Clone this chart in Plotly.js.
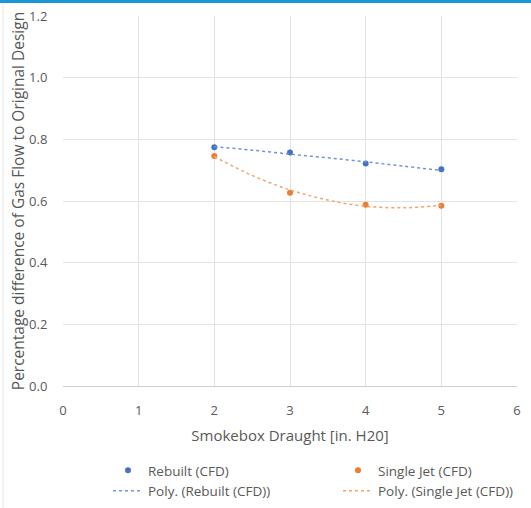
<!DOCTYPE html>
<html>
<head>
<meta charset="utf-8">
<script src="https://cdn.plot.ly/plotly-3.0.1.min.js"></script>
<style>html,body{margin:0;padding:0;background:#fff;}#chart{width:531px;height:508px;}</style>
</head>
<body>
<div id="chart"></div>
<script>
// Measured data points
const draught = [2, 3, 4, 5];
const rebuiltCFD = [0.774, 0.757, 0.722, 0.703];
const singleJetCFD = [0.746, 0.627, 0.588, 0.585];

// Polynomial trendlines
const trendX = [2, 2.5, 3, 3.5, 4, 4.5, 5];
const rebuiltTrend = [0.776, 0.765, 0.752, 0.740, 0.727, 0.713, 0.699];
const singleJetTrend = [0.744, 0.683, 0.636, 0.603, 0.583, 0.578, 0.586];

const xTicks = [0, 1, 2, 3, 4, 5, 6];
const yTicks = [0.0, 0.2, 0.4, 0.6, 0.8, 1.0, 1.2];

const blue = '#4472C4', orange = '#ED7D31';
const fam = '"Open Sans", "Noto Sans", sans-serif';
const tickFont = {family: fam, size: 13, color: '#595959'};
const legFont = {family: fam, size: 13.5, color: '#595959'};

const traces = [
  {x: draught, y: rebuiltCFD, name: 'Rebuilt (CFD)', mode: 'markers', type: 'scatter',
   marker: {color: blue, size: 6}, legend: 'legend'},
  {x: trendX, y: rebuiltTrend, name: 'Poly. (Rebuilt (CFD))', mode: 'lines', type: 'scatter',
   line: {color: '#6f95d8', width: 1.5, dash: 'dot', shape: 'spline'}, legend: 'legend'},
  {x: draught, y: singleJetCFD, name: 'Single Jet (CFD)', mode: 'markers', type: 'scatter',
   marker: {color: orange, size: 6}, legend: 'legend2'},
  {x: trendX, y: singleJetTrend, name: 'Poly. (Single Jet (CFD))', mode: 'lines', type: 'scatter',
   line: {color: '#f2a46e', width: 1.5, dash: 'dot', shape: 'spline'}, legend: 'legend2'}
];

const W = 531 - 63 - 14;
const H = 508 - 16 - 122;
const legendBase = {
  orientation: 'v', xanchor: 'left', yanchor: 'top', xref: 'paper', yref: 'container',
  y: 1 - 455 / 508, font: legFont, tracegroupgap: 0, itemwidth: 30, bgcolor: 'rgba(0,0,0,0)'
};
const layout = {
  width: 531, height: 508,
  margin: {l: 63, r: 14, t: 16, b: 122},
  paper_bgcolor: '#ffffff', plot_bgcolor: '#ffffff',
  font: tickFont,
  showlegend: true,
  xaxis: {
    range: [0, 6], tickvals: xTicks, ticktext: xTicks.map(String),
    showgrid: true, gridcolor: '#e3e3e3', gridwidth: 1, zeroline: false,
    showline: true, linecolor: '#d0d0d0', linewidth: 1,
    ticks: 'outside', ticklen: 12, tickcolor: 'rgba(0,0,0,0)',
    tickfont: tickFont, automargin: false,
    title: {text: 'Smokebox Draught [in. H20]', font: {family: fam, size: 15, color: '#595959'}}
  },
  yaxis: {
    range: [0, 1.2], tickvals: yTicks, ticktext: yTicks.map(v => v.toFixed(1)),
    showgrid: true, gridcolor: '#e3e3e3', gridwidth: 1, zeroline: false,
    showline: false,
    ticks: 'outside', ticklen: 12, tickcolor: 'rgba(0,0,0,0)',
    tickfont: tickFont, automargin: 'left',
    title: {text: 'Percentage difference of Gas Flow to Original Design', font: {family: fam, size: 15.5, color: '#595959'}, standoff: 0}
  },
  legend: Object.assign({}, legendBase, {x: (108 - 63) / W}),
  legend2: Object.assign({}, legendBase, {x: (338 - 63) / W}),
  shapes: [
    {type: 'rect', xref: 'paper', yref: 'paper', x0: -63/W, x1: 1 + 14/W, y0: 1 + 13/H, y1: 1 + 16/H,
     fillcolor: '#1a96d4', line: {width: 0}, layer: 'above'},
    {type: 'line', xref: 'paper', yref: 'paper', x0: -60/W, x1: -60/W, y0: -122/H, y1: 1 + 12/H,
     line: {color: '#e6e6e6', width: 1}}
  ]
};

Plotly.newPlot('chart', traces, layout, {displayModeBar: false, staticPlot: true});
</script>
</body>
</html>
